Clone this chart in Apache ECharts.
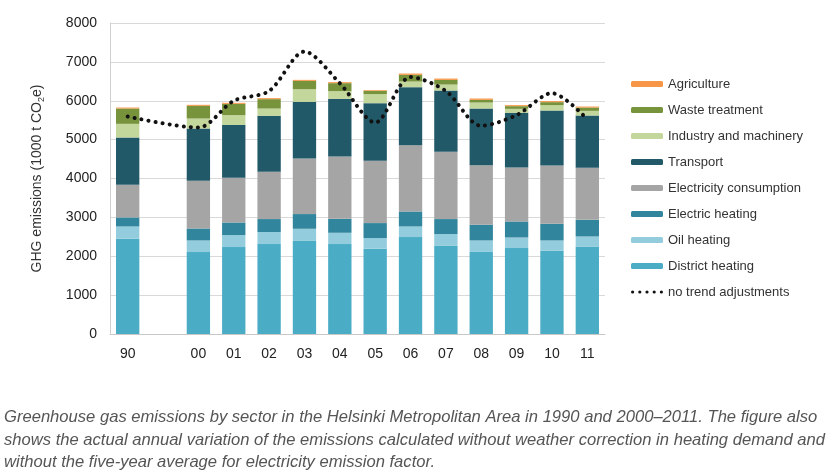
<!DOCTYPE html>
<html>
<head>
<meta charset="utf-8">
<script src="https://cdn.jsdelivr.net/npm/echarts@6/dist/echarts.min.js"></script>
<style>
html,body{margin:0;padding:0;background:#fff;}
#c{width:838px;height:474px;}
</style>
</head>
<body>
<div id="c"></div>
<script>
const categories = ['90', '', '00', '01', '02', '03', '04', '05', '06', '07', '08', '09', '10', '11'];
const districtHeating = [2450, null, 2108, 2236, 2313, 2406, 2313, 2193, 2493, 2278, 2123, 2211, 2141, 2252];
const oilHeating      = [316, null, 298, 309, 309, 301, 291, 275, 273, 293, 283, 272, 265, 257];
const electricHeating = [232, null, 309, 324, 334, 378, 360, 385, 386, 385, 404, 412, 430, 429];
const electricityConsumption = [840, null, 1226, 1149, 1216, 1429, 1602, 1602, 1706, 1730, 1534, 1388, 1498, 1337];
const transport       = [1216, null, 1345, 1362, 1440, 1458, 1483, 1483, 1492, 1576, 1456, 1406, 1414, 1345];
const industry        = [352, null, 257, 250, 188, 326, 198, 232, 144, 155, 154, 103, 139, 120];
const wasteTreatment  = [394, null, 326, 290, 241, 214, 205, 84, 172, 120, 69, 69, 77, 85];
const agriculture     = [25, null, 26, 26, 26, 25, 26, 18, 34, 34, 34, 26, 26, 26];
const noTrend         = [5594, null, 5311, 6000, 6250, 7265, 6450, 5440, 6610, 6250, 5355, 5630, 6195, 5520];
const yTicks = [0, 1000, 2000, 3000, 4000, 5000, 6000, 7000, 8000];
const captionLines = [
  'Greenhouse gas emissions by sector in the Helsinki Metropolitan Area in 1990 and 2000\u20132011. The figure also',
  'shows the actual annual variation of the emissions calculated without weather correction in heating demand and',
  'without the five-year average for electricity emission factor.'
];

const colors = {
  'District heating': '#4BACC6',
  'Oil heating': '#93CDDD',
  'Electric heating': '#31859C',
  'Electricity consumption': '#A5A5A5',
  'Transport': '#215968',
  'Industry and machinery': '#C3D69B',
  'Waste treatment': '#77933C',
  'Agriculture': '#F79646'
};
const barSeriesData = [
  ['District heating', districtHeating],
  ['Oil heating', oilHeating],
  ['Electric heating', electricHeating],
  ['Electricity consumption', electricityConsumption],
  ['Transport', transport],
  ['Industry and machinery', industry],
  ['Waste treatment', wasteTreatment],
  ['Agriculture', agriculture]
];
const series = barSeriesData.map(([name, data]) => ({
  name: name,
  type: 'bar',
  stack: 'total',
  data: data,
  barCategoryGap: '34%',
  itemStyle: { color: colors[name] },
  emphasis: { disabled: true }
}));
series.push({
  name: 'no trend adjustments',
  type: 'line',
  data: noTrend,
  connectNulls: true,
  smooth: 0.3,
  symbol: 'none',
  lineStyle: { color: '#111', width: 4, type: [0.1, 7], cap: 'round' },
  itemStyle: { color: '#111' },
  z: 5
});

function dot(x) {
  return 'M' + x + ',3a1.6,1.6 0 1,0 3.2,0a1.6,1.6 0 1,0 -3.2,0Z';
}
const dotIcon = 'path://M0,0L0.01,0L0,0.01Z M0,6L0.01,6L0,5.99Z ' +
  [0, 7.2, 14.4, 21.6, 28.8].map(dot).join(' ');

const legendNames = ['Agriculture', 'Waste treatment', 'Industry and machinery', 'Transport',
  'Electricity consumption', 'Electric heating', 'Oil heating', 'District heating'];

const chart = echarts.init(document.getElementById('c'), null, { renderer: 'canvas' });
chart.setOption({
  animation: false,
  backgroundColor: '#fff',
  grid: { left: 110, right: 233, top: 23, bottom: 140 },
  legend: {
    orient: 'vertical',
    left: 626,
    top: 72,
    itemWidth: 32,
    itemHeight: 6,
    itemGap: 12,
    data: legendNames.map(n => ({ name: n })).concat([{ name: 'no trend adjustments', icon: dotIcon }]),
    textStyle: { fontFamily: 'Liberation Sans, Arial, sans-serif', fontSize: 13, color: '#333', lineHeight: 14 },
    selectedMode: false
  },
  xAxis: {
    type: 'category',
    data: categories,
    axisLine: { lineStyle: { color: '#c8c8c8' } },
    axisTick: { show: false },
    axisLabel: { fontFamily: 'Liberation Sans, Arial, sans-serif', fontSize: 14, color: '#222', margin: 13 }
  },
  yAxis: {
    type: 'value',
    min: yTicks[0],
    max: yTicks[yTicks.length - 1],
    interval: 1000,
    axisLine: { show: true, lineStyle: { color: '#d0d0d0' } },
    axisTick: { show: false },
    splitLine: { lineStyle: { color: '#d9d9d9' } },
    axisLabel: { fontFamily: 'Liberation Sans, Arial, sans-serif', fontSize: 14, color: '#222', margin: 13,
      formatter: v => String(v) },
    name: '{a|GHG emissions (1000 t CO}{s|2}{a|e)}',
    nameLocation: 'middle',
    nameGap: 64,
    nameRotate: 90,
    nameTextStyle: {
      rich: {
        a: { fontFamily: 'Liberation Sans, Arial, sans-serif', fontSize: 14, color: '#333' },
        s: { fontFamily: 'Liberation Sans, Arial, sans-serif', fontSize: 9, color: '#333', padding: [8, 0, 0, 0] }
      }
    }
  },
  graphic: captionLines.map((t, i) => ({
    type: 'text',
    left: 4,
    top: 409 + i * 22.5,
    style: {
      text: t,
      font: 'italic 16.6px "Liberation Sans", Arial, sans-serif',
      fill: '#555'
    }
  })),
  series: series
});
</script>
</body>
</html>
